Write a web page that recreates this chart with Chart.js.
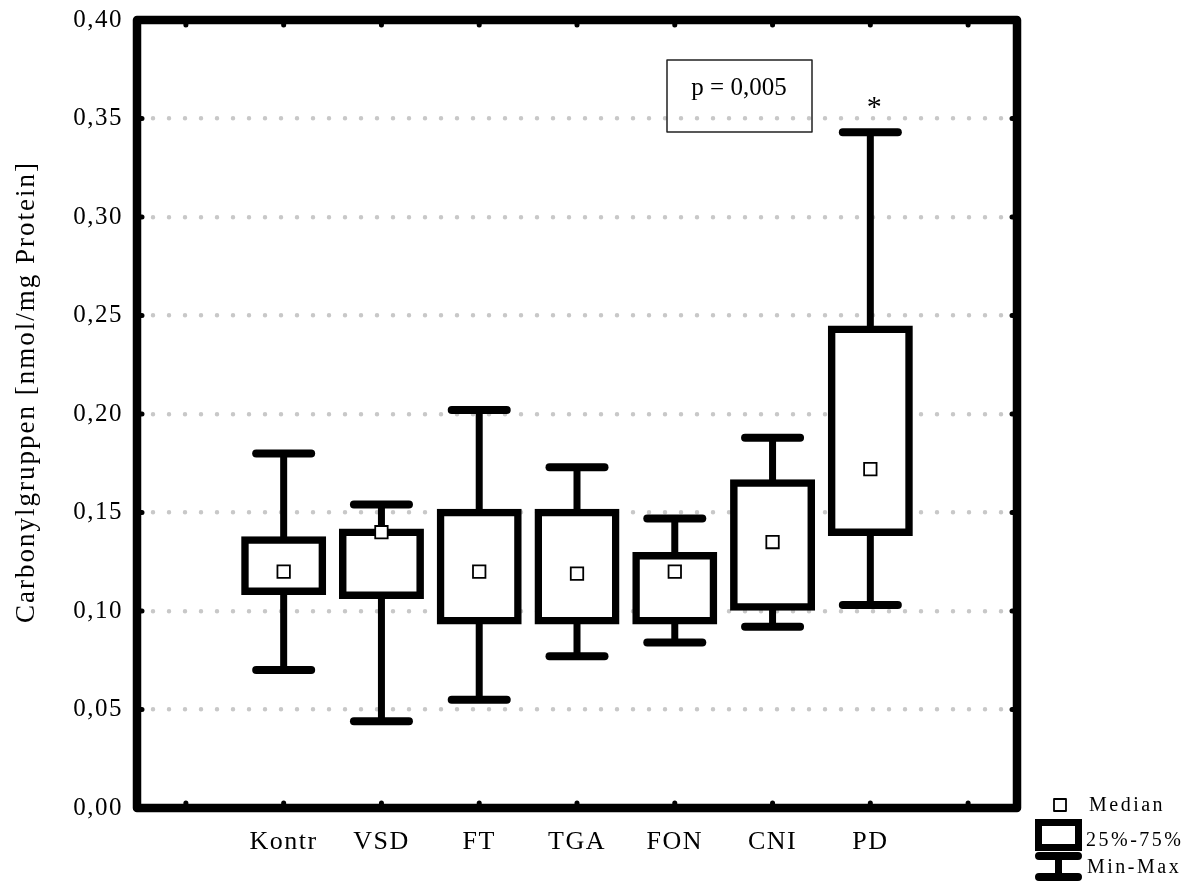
<!DOCTYPE html>
<html>
<head>
<meta charset="utf-8">
<script src="https://cdn.jsdelivr.net/npm/chart.js@4.4.0/dist/chart.umd.min.js"></script>
<style>
    html, body { margin: 0; padding: 0; background: #fff; }
    #wrap { width: 1196px; height: 881px; }
</style>
</head>
<body>
<div id="wrap"><canvas id="boxChart" width="1196" height="881"></canvas></div>
<script>
// Kategorien (leere Plätze links und rechts wie im Original)
const categories = ['', 'Kontr', 'VSD', 'FT', 'TGA', 'FON', 'CNI', 'PD', ''];
const minValues    = [null, 0.070, 0.044, 0.055, 0.077, 0.084, 0.092, 0.103, null];
const q1Values     = [null, 0.110, 0.108, 0.095, 0.095, 0.095, 0.102, 0.140, null];
const medianValues = [null, 0.120, 0.140, 0.120, 0.119, 0.120, 0.135, 0.172, null];
const q3Values     = [null, 0.136, 0.140, 0.150, 0.150, 0.128, 0.165, 0.243, null];
const maxValues    = [null, 0.180, 0.154, 0.202, 0.173, 0.147, 0.188, 0.343, null];
const yTicks = [0, 0.05, 0.10, 0.15, 0.20, 0.25, 0.30, 0.35, 0.40];
const yTitle = 'Carbonylgruppen [nmol/mg Protein]';
const pText = 'p = 0,005';
const starIndex = 7; // PD
const legendLabels = ['Median', '25%-75%', 'Min-Max'];

const serif = "'Liberation Serif', 'Times New Roman', serif";

// Boxen und Whisker als schwebende Balken
const boxData = categories.map((c, i) => q1Values[i] == null ? null : [q1Values[i], q3Values[i]]);
const rangeData = categories.map((c, i) => minValues[i] == null ? null : [minValues[i], maxValues[i]]);

// Grundeinstellungen für den Canvas
const setupPlugin = {
    id: 'setup',
    beforeDraw(chart) {
        chart.ctx.lineCap = 'round';
        chart.ctx.letterSpacing = '1.5px';
    }
};

// Rahmen, Tick-Punkte, Achsentitel, p-Wert und Legende
const decorPlugin = {
    id: 'decor',
    afterDraw(chart) {
        const ctx = chart.ctx;
        const a = chart.chartArea;
        const xs = chart.scales.x;
        const ys = chart.scales.y;

        ctx.save();
        ctx.strokeStyle = '#000';
        ctx.lineCap = 'round';
        ctx.lineJoin = 'round';

        // Rahmen
        ctx.lineWidth = 8.5;
        ctx.strokeRect(a.left, a.top, a.right - a.left, a.bottom - a.top);

        // Tick-Punkte innen am Rahmen
        ctx.lineWidth = 5;
        ctx.beginPath();
        categories.forEach((c, i) => {
            const x = xs.getPixelForValue(i);
            ctx.moveTo(x, a.top); ctx.lineTo(x, a.top + 5);
            ctx.moveTo(x, a.bottom); ctx.lineTo(x, a.bottom - 5);
        });
        yTicks.forEach(v => {
            const y = ys.getPixelForValue(v);
            ctx.moveTo(a.left, y); ctx.lineTo(a.left + 5, y);
            ctx.moveTo(a.right, y); ctx.lineTo(a.right - 5, y);
        });
        ctx.stroke();

        // Achsentitel
        ctx.fillStyle = '#000';
        ctx.letterSpacing = '2px';
        ctx.font = '27px ' + serif;
        ctx.textAlign = 'center';
        ctx.textBaseline = 'middle';
        ctx.save();
        ctx.translate(27, 392);
        ctx.rotate(-Math.PI / 2);
        ctx.fillText(yTitle, 0, 0);
        ctx.restore();

        // p-Wert Kasten
        ctx.letterSpacing = '0px';
        ctx.lineWidth = 1.5;
        ctx.strokeStyle = '#222';
        ctx.strokeRect(667, 60, 145, 72);
        ctx.font = '25px ' + serif;
        ctx.fillText(pText, 739, 88);

        // Stern über PD
        ctx.font = '30px ' + serif;
        ctx.textBaseline = 'alphabetic';
        ctx.fillText('*', xs.getPixelForValue(starIndex) + 4, ys.getPixelForValue(0.35) - 3);

        // Legende unten rechts
        ctx.strokeStyle = '#000';
        ctx.lineWidth = 1.8;
        ctx.strokeRect(1054, 799, 12, 12);
        ctx.lineWidth = 7;
        ctx.lineJoin = 'miter';
        ctx.strokeRect(1038.5, 822.5, 40, 25);
        ctx.lineWidth = 8;
        ctx.beginPath();
        ctx.moveTo(1039, 856); ctx.lineTo(1078, 856);
        ctx.moveTo(1039, 877); ctx.lineTo(1078, 877);
        ctx.stroke();
        ctx.lineWidth = 7;
        ctx.lineCap = 'butt';
        ctx.beginPath();
        ctx.moveTo(1058.5, 856); ctx.lineTo(1058.5, 877);
        ctx.stroke();

        ctx.font = '20px ' + serif;
        ctx.letterSpacing = '2.5px';
        ctx.textAlign = 'left';
        ctx.textBaseline = 'middle';
        ctx.fillText(legendLabels[0], 1089, 806);
        ctx.fillText(legendLabels[1], 1086, 841);
        ctx.fillText(legendLabels[2], 1087, 868);
        ctx.restore();
    }
};

const ctx = document.getElementById('boxChart').getContext('2d');
const boxChart = new Chart(ctx, {
    data: {
        labels: categories,
        datasets: [
            {
                type: 'line',
                label: 'Median',
                data: medianValues,
                showLine: false,
                pointStyle: 'rect',
                pointRadius: 8.8,
                pointBackgroundColor: '#fff',
                pointBorderColor: '#000',
                pointBorderWidth: 1.8,
                order: 0
            },
            {
                type: 'line',
                label: 'Max',
                data: maxValues,
                showLine: false,
                pointStyle: 'line',
                pointRadius: 27.5,
                pointBorderColor: '#000',
                pointBorderWidth: 8,
                order: 1
            },
            {
                type: 'line',
                label: 'Min',
                data: minValues,
                showLine: false,
                pointStyle: 'line',
                pointRadius: 27.5,
                pointBorderColor: '#000',
                pointBorderWidth: 8,
                order: 1
            },
            {
                type: 'bar',
                label: '25%-75%',
                data: boxData,
                backgroundColor: '#fff',
                borderColor: '#000',
                borderWidth: 7.5,
                borderSkipped: false,
                inflateAmount: 3.75,
                barThickness: 77.5,
                grouped: false,
                order: 2
            },
            {
                type: 'bar',
                label: 'Min-Max',
                data: rangeData,
                backgroundColor: '#000',
                borderWidth: 0,
                inflateAmount: 0,
                barThickness: 7,
                grouped: false,
                order: 3
            }
        ]
    },
    options: {
        responsive: false,
        devicePixelRatio: 1,
        animation: false,
        layout: { autoPadding: false, padding: { top: 20, right: 179, left: 0, bottom: 0 } },
        plugins: {
            legend: { display: false },
            tooltip: { enabled: false }
        },
        scales: {
            x: {
                offset: true,
                grid: { display: false, drawTicks: false },
                border: { display: false },
                ticks: {
                    color: '#000',
                    font: { family: serif, size: 26 },
                    padding: 19,
                    maxRotation: 0,
                    autoSkip: false
                },
                afterFit: s => {
                    s.height = 73;
                    s.paddingLeft = 0;
                    s.paddingRight = 0;
                }
            },
            y: {
                min: 0,
                max: 0.4,
                afterBuildTicks: s => { s.ticks = yTicks.map(v => ({ value: v })); },
                grid: { color: '#c8c8c8', lineWidth: 4.5, drawTicks: false },
                border: { display: false, dash: [0, 16] },
                ticks: {
                    color: '#000',
                    font: { family: serif, size: 25 },
                    padding: 14,
                    callback: v => v.toFixed(2).replace('.', ',')
                },
                afterFit: s => {
                    s.width = 137;
                    s.paddingTop = 0;
                    s.paddingBottom = 0;
                }
            }
        }
    },
    plugins: [setupPlugin, decorPlugin]
});
</script>
</body>
</html>
